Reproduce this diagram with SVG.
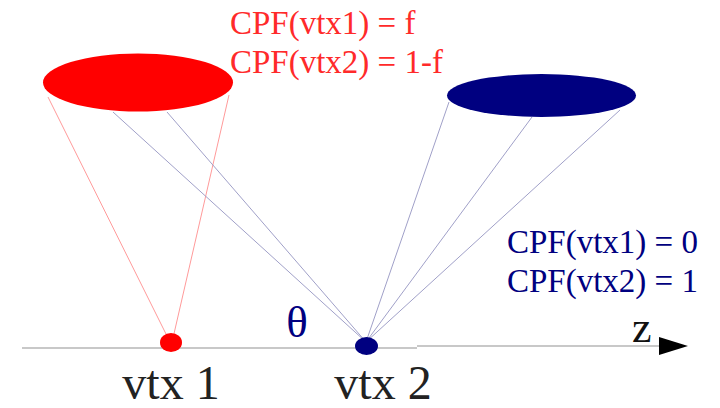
<svg xmlns="http://www.w3.org/2000/svg" width="720" height="408" viewBox="0 0 720 408">
<style>
text{font-family:"Liberation Serif","DejaVu Serif","Noto Serif","Times New Roman",serif;}
.red{fill:#ff2a2a;font-size:33px;}
.blue{fill:#000080;font-size:33px;}
.lbl{fill:#222;font-size:48px;}
.rl{stroke:#ff9a9a;stroke-width:1;fill:none;}
.bl{stroke:#a0a0c8;stroke-width:1;fill:none;}
.axis{stroke:#c8c8c8;stroke-width:2;fill:none;}
</style>
<rect width="720" height="408" fill="#fff"/>
<g id="connectors">
  <line class="rl" x1="48" y1="97" x2="168" y2="338"/>
  <line class="rl" x1="229" y1="95" x2="173" y2="338"/>
  <line class="bl" x1="113" y1="112" x2="366" y2="342"/>
  <line class="bl" x1="167" y1="112" x2="366" y2="342"/>
  <line class="bl" x1="449" y1="102" x2="366" y2="342"/>
  <line class="bl" x1="532" y1="117" x2="366" y2="342"/>
  <line class="bl" x1="620" y1="110" x2="366" y2="342"/>
</g>
<g id="axis">
  <line class="axis" x1="22" y1="348" x2="417" y2="348"/>
  <line class="axis" x1="417" y1="346" x2="662" y2="346"/>
  <polygon points="659,337 688,346 659,355" fill="#000"/>
  <text x="632" y="342" font-size="44" fill="#111" font-family="Liberation Serif, DejaVu Serif, serif">z</text>
</g>
<g id="red-cone">
  <ellipse cx="138" cy="82.5" rx="95" ry="29" fill="#ff0000"/>
  <text class="red" x="230" y="34" font-family="Liberation Serif, DejaVu Serif, serif">CPF(vtx1) = f</text>
  <text class="red" x="230" y="73" font-family="Liberation Serif, DejaVu Serif, serif">CPF(vtx2) = 1-f</text>
</g>
<g id="blue-cone">
  <ellipse cx="541.5" cy="95.5" rx="94.5" ry="21.5" fill="#000080"/>
  <text class="blue" x="507" y="253" font-family="Liberation Serif, DejaVu Serif, serif">CPF(vtx1) = 0</text>
  <text class="blue" x="507" y="292" font-family="Liberation Serif, DejaVu Serif, serif">CPF(vtx2) = 1</text>
</g>
<g id="vtx1">
  <ellipse cx="171" cy="342.5" rx="11" ry="9.5" fill="#ff0000"/>
  <text class="lbl" x="171" y="399" text-anchor="middle" font-family="Liberation Serif, DejaVu Serif, serif">vtx 1</text>
</g>
<g id="vtx2">
  <ellipse cx="366.5" cy="346" rx="11.5" ry="9" fill="#000080"/>
  <text class="lbl" x="383" y="399" text-anchor="middle" font-family="Liberation Serif, DejaVu Serif, serif">vtx 2</text>
</g>
<g id="theta">
  <text x="297" y="337" font-size="45" fill="#000080" text-anchor="middle" font-family="Liberation Serif, DejaVu Serif, serif">θ</text>
</g>
</svg>
